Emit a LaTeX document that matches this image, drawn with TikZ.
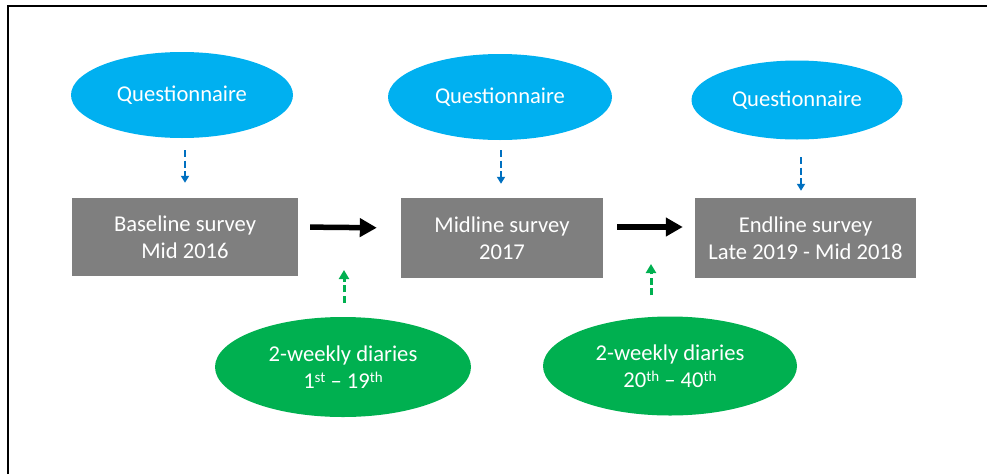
\documentclass[tikz,border=0pt]{standalone}
\usepackage{fontspec}
\setmainfont{Carlito}
\usetikzlibrary{shapes.geometric,arrows.meta}
\definecolor{qblue}{HTML}{00B0F0}
\definecolor{dgreen}{HTML}{00B050}
\definecolor{sgray}{HTML}{7F7F7F}
\definecolor{ablue}{HTML}{0070C0}
\newcommand{\supx}[1]{\raisebox{0.5ex}{\fontsize{15}{15}\selectfont #1}}
\begin{document}
\begin{tikzpicture}[x=1pt,y=-1pt,
  txt/.style={font=\fontsize{22.6}{27}\selectfont, text=white, align=center},
  ques/.style={ellipse, fill=qblue, draw=none, inner sep=0pt, txt},
  diary/.style={ellipse, fill=dgreen, draw=none, inner sep=0pt, txt},
  survey/.style={rectangle, fill=sgray, draw=none, inner sep=0pt, txt},
  bluearr/.style={draw=ablue, line width=2.5pt, dash pattern=on 7pt off 3.5pt, -{Triangle[length=7pt,width=8pt]}},
  greenarr/.style={draw=dgreen, line width=3pt, dash pattern=on 7pt off 3.5pt, -{Triangle[length=9pt,width=10pt]}},
  flowarr/.style={draw=black, line width=5.5pt, -{Triangle[length=17pt,width=18pt]}}
]
\useasboundingbox (0,0) rectangle (987,474);
\draw[line width=1.5pt] (8,474) -- (8,6) -- (987,6);

\node[ques, minimum width=222pt, minimum height=86pt] (q1) at (182,95) {Questionnaire};
\node[ques, minimum width=224pt, minimum height=86pt] (q2) at (500,97) {Questionnaire};
\node[ques, minimum width=211pt, minimum height=79pt] (q3) at (797,100) {Questionnaire};

\node[survey, minimum width=226pt, minimum height=78pt] (b1) at (185,237) {Baseline survey\\Mid 2016};
\node[survey, minimum width=202pt, minimum height=80pt] (b2) at (502,238) {Midline survey\\2017};
\node[survey, minimum width=221pt, minimum height=80pt] (b3) at (805.5,238) {Endline survey\\Late 2019 - Mid 2018};

\node[diary, minimum width=256pt, minimum height=100pt] (d1) at (343,367) {2-weekly diaries\\1\supx{st} -- 19\supx{th}};
\node[diary, minimum width=254pt, minimum height=99pt] (d2) at (670,366) {2-weekly diaries\\20\supx{th} -- 40\supx{th}};

\coordinate (g1) at (344,270);
\coordinate (g2) at (651,264);

\draw[bluearr, shorten <=12pt, shorten >=15pt] (b1.north |- q1.south) -- (b1.north);
\draw[bluearr, shorten <=10pt, shorten >=14pt] (q2.south -| 501,0) -- (b2.north -| 501,0);
\draw[bluearr, shorten <=17.5pt, shorten >=7pt] (q3.south -| 801,0) -- (b3.north -| 801,0);

\draw[flowarr, shorten <=12pt, shorten >=24pt] ([yshift=10pt]b1.east) -- ([yshift=10pt]b2.west);
\draw[flowarr, shorten <=14pt, shorten >=12pt] ([yshift=11pt]b2.east) -- ([yshift=11pt]b3.west);

\draw[greenarr, shorten <=14pt] (g1 |- d1.north) -- (g1);
\draw[greenarr, shorten <=21pt] (g2 |- d2.north) -- (g2);
\end{tikzpicture}
\end{document}
